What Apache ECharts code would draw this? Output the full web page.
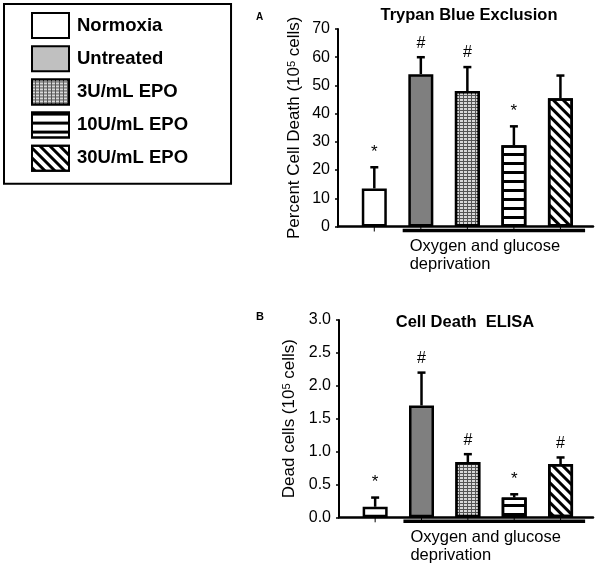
<!DOCTYPE html>
<html><head><meta charset="utf-8">
<script src="https://cdn.jsdelivr.net/npm/echarts@6/dist/echarts.min.js"></script>
<style>html,body{margin:0;padding:0;background:#fff}#c{width:602px;height:568px}</style>
</head><body><div id="c"></div>
<script>
// ---------- data ----------
const seriesNames = ['Normoxia', 'Untreated', '3U/mL EPO', '10U/mL EPO', '30U/mL EPO'];
const positions = [1, 2, 3, 4, 5];
const trypanValues = [13.5, 54, 48, 28.8, 45.5];
const trypanErrTop = [21, 60, 56.5, 35.5, 53.5];
const trypanMarks = ['*', '#', '#', '*', ''];
const elisaValues = [0.16, 1.70, 0.84, 0.30, 0.81];
const elisaErrTop = [0.30, 2.20, 0.96, 0.35, 0.91];
const elisaMarks = ['*', '#', '#', '*', '#'];
const trypanTicks = [0, 10, 20, 30, 40, 50, 60, 70];
const elisaTicks = [0, 0.5, 1.0, 1.5, 2.0, 2.5, 3.0];
const groupLabel = 'Oxygen and glucose\ndeprivation';
const panelTitles = ['Trypan Blue Exclusion', 'Cell Death  ELISA'];
const panelLetters = ['A', 'B'];

// ---------- styles ----------
const FONT = 'Liberation Sans, Arial, sans-serif';
const barStyles = [
  { color: '#ffffff' },
  { color: '#7f7f7f' },
  { color: '#555555', decal: { symbol: 'rect', color: '#d8d8d8', dashArrayX: [3, 1], dashArrayY: [2, 1], symbolSize: 1 } },
  { color: '#ffffff', decal: { symbol: 'rect', color: '#000000', dashArrayX: [1, 0], dashArrayY: [2.5, 5.6], symbolSize: 1 } },
  { color: '#ffffff', decal: { symbol: 'rect', color: '#000000', dashArrayX: [1, 0], dashArrayY: [2.6, 3.2], rotation: Math.PI / 4, symbolSize: 1 } }
];
const legendColors = ['#ffffff', '#c0c0c0', null, null, null];
const xMin = 0.22, xMax = 5.7;
const groupStart = 1.61, groupEnd = 5.53, groupTextX = 1.76;

function errRender(marks) {
  return function (params, api) {
    const i = params.dataIndex;
    const x = api.value(0), v = api.value(1), e = api.value(2);
    const pTop = api.coord([x, v]), pErr = api.coord([x, e]), pBase = api.coord([x, 0]);
    const children = [
      { type: 'line', shape: { x1: pTop[0], y1: pTop[1], x2: pErr[0], y2: pErr[1] }, style: { stroke: '#000', lineWidth: 2.5 } },
      { type: 'line', shape: { x1: pErr[0] - 4, y1: pErr[1], x2: pErr[0] + 4, y2: pErr[1] }, style: { stroke: '#000', lineWidth: 2.5 } },
      { type: 'line', shape: { x1: pBase[0], y1: pBase[1], x2: pBase[0], y2: pBase[1] + 5 }, style: { stroke: '#000', lineWidth: 1 } }
    ];
    const m = marks[i];
    if (m) {
      children.push({
        type: 'text', x: pErr[0], y: pErr[1] - (m === '#' ? 14 : 15),
        style: { text: m, fill: '#000', fontSize: m === '#' ? 16 : 17, fontFamily: FONT, align: 'center', verticalAlign: 'middle' }
      });
    }
    return { type: 'group', children: children };
  };
}
function groupRender(params, api) {
  const p1 = api.coord([api.value(0), 0]);
  const p2 = api.coord([api.value(1), 0]);
  const pt = api.coord([groupTextX, 0]);
  return {
    type: 'group', children: [
      { type: 'line', shape: { x1: p1[0], y1: p1[1] + 4, x2: p2[0], y2: p2[1] + 4 }, style: { stroke: '#000', lineWidth: 3.5 } },
      { type: 'text', x: pt[0], y: pt[1] + 11, style: { text: groupLabel, fill: '#000', fontSize: 16.5, lineHeight: 18, fontFamily: FONT, align: 'left', verticalAlign: 'top' } }
    ]
  };
}

const grids = [
  { left: 338, right: 9, top: 29, height: 197.5, outerBoundsMode: 'none' },
  { left: 339, right: 9, top: 320, height: 197.3, outerBoundsMode: 'none' }
];
const xAxes = [0, 1].map(g => ({
  type: 'value', gridIndex: g, min: xMin, max: xMax,
  axisLine: { show: true, onZero: false, lineStyle: { color: '#000', width: 2.5 } },
  axisTick: { show: false }, axisLabel: { show: false }, splitLine: { show: false }
}));
function yAxis(g, ticks, name, gap, dec) {
  return {
    type: 'value', gridIndex: g, min: ticks[0], max: ticks[ticks.length - 1], interval: ticks[1] - ticks[0],
    axisLine: { show: true, lineStyle: { color: '#000', width: 2 } },
    axisTick: { show: true, length: 3, lineStyle: { color: '#000', width: 1.5 } },
    axisLabel: { color: '#000', fontSize: 16, fontFamily: FONT, margin: 8, formatter: v => v.toFixed(dec) },
    splitLine: { show: false },
    name: name, nameLocation: 'middle', nameGap: gap,
    nameTextStyle: {
      color: '#000', fontSize: 17, fontFamily: FONT,
      rich: { n: { fontSize: 17, fontFamily: FONT, color: '#000' }, s: { fontSize: 11, fontFamily: FONT, color: '#000', verticalAlign: 'top' } }
    }
  };
}
const yAxes = [
  yAxis(0, trypanTicks, '{n|Percent Cell Death (10}{s|5}{n| cells)}', 35, 0),
  yAxis(1, elisaTicks, '{n|Dead cells (10}{s|5}{n| cells)}', 41, 1)
];

const series = [];
[[trypanValues, trypanErrTop, trypanMarks], [elisaValues, elisaErrTop, elisaMarks]].forEach((d, g) => {
  seriesNames.forEach((nm, i) => {
    series.push({
      type: 'bar', name: nm, xAxisIndex: g, yAxisIndex: g,
      barWidth: 25, barGap: '-100%',
      itemStyle: Object.assign({ borderColor: '#000', borderWidth: 2.5 }, barStyles[i]),
      data: [[positions[i], d[0][i]]], z: 2
    });
  });
  series.push({
    type: 'custom', name: 'err' + g, xAxisIndex: g, yAxisIndex: g, z: 5,
    renderItem: errRender(d[2]),
    data: positions.map((p, i) => [p, d[0][i], d[1][i]])
  });
  series.push({
    type: 'custom', name: 'grp' + g, xAxisIndex: g, yAxisIndex: g, z: 6,
    renderItem: groupRender, data: [[groupStart, groupEnd]]
  });
});

const option = {
  animation: false,
  backgroundColor: '#fff',
  title: [
    { text: panelTitles[0], left: 469, top: 7, textAlign: 'center', padding: 0, textStyle: { fontSize: 16.5, fontWeight: 'bold', color: '#000', fontFamily: FONT } },
    { text: panelTitles[1], left: 465, top: 314, textAlign: 'center', padding: 0, textStyle: { fontSize: 16.5, fontWeight: 'bold', color: '#000', fontFamily: FONT } },
    { text: panelLetters[0], left: 256, top: 12, padding: 0, textStyle: { fontSize: 10, fontWeight: 'bold', color: '#000', fontFamily: FONT } },
    { text: panelLetters[1], left: 256, top: 311, padding: 0, textStyle: { fontSize: 11, fontWeight: 'bold', color: '#000', fontFamily: FONT } }
  ],
  legend: {
    orient: 'vertical', left: 4, top: 4, padding: [8, 43, 12, 27],
    borderColor: '#000', borderWidth: 2,
    itemWidth: 37, itemHeight: 25, itemGap: 6.2, icon: 'rect',
    selectedMode: false,
    textStyle: { fontSize: 18.5, fontWeight: 'bold', color: '#000', fontFamily: FONT, padding: [0, 0, 0, 3] },
    data: seriesNames.map((n, i) => legendColors[i] ? { name: n, itemStyle: { color: legendColors[i] } } : { name: n })
  },
  grid: grids, xAxis: xAxes, yAxis: yAxes, series: series
};
const chart = echarts.init(document.getElementById('c'), null, { renderer: 'canvas' });
chart.setOption(option);
</script></body></html>
